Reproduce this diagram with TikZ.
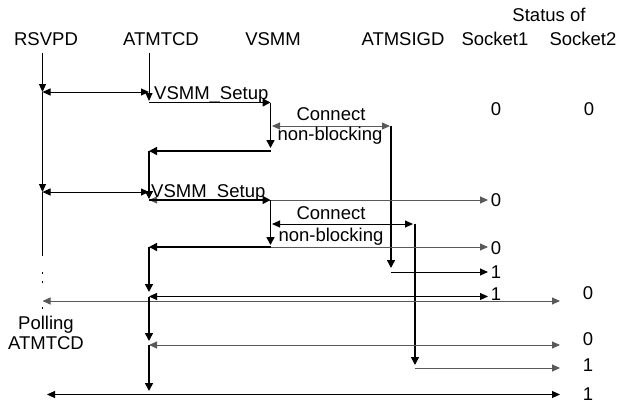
\documentclass[tikz,border=0pt]{standalone}
\usepackage{fontspec}
\setmainfont{Liberation Sans}
\usetikzlibrary{arrows.meta}
\begin{document}
\begin{tikzpicture}[x=1pt,y=-1pt,
  lbl/.style={font=\fontsize{18.5}{20}\selectfont, inner sep=0pt, anchor=base},
  msg/.style={line width=0.9pt, draw=black, arrows={-Triangle[length=8pt,width=7pt]}},
  gmsg/.style={msg, draw=black!65},
  both/.style={arrows={Triangle[length=8pt,width=7pt]-Triangle[length=8pt,width=7pt]}},
  ctl/.style={line width=1.6pt, draw=black, arrows={-Triangle[length=8pt,width=8pt]}},
  plain/.style={line width=0.9pt, draw=black},
  dotm/.style={fill=black, minimum size=1.8pt, inner sep=0pt, shape=rectangle}
]
\useasboundingbox (0,0) rectangle (630,405);

% headers
\node[lbl] (hSt) at (549,21) {Status of};
\node[lbl] (hR) at (46,45) {RSVPD};
\node[lbl] (hA) at (161,45) {ATMTCD};
\node[lbl] (hV) at (273,45) {VSMM};
\node[lbl] (hG) at (403,45) {ATMSIGD};
\node[lbl] (hS1) at (495,45) {Socket1};
\node[lbl] (hS2) at (583,45) {Socket2};

% coordinates
\coordinate (R0) at (42.5,53);
\coordinate (R1) at (42.5,92);
\coordinate (R2) at (42.5,192);
\coordinate (R3) at (42.5,256);
\coordinate (R4) at (42.5,301);
\coordinate (R5) at (47,394.5);

\coordinate (A0) at (149,53);
\coordinate (A1) at (149,92);
\coordinate (A1d) at (149,101);
\coordinate (A2) at (149,102.5);
\coordinate (A3) at (149,151);
\coordinate (A3d) at (149,199);
\coordinate (A4) at (149,192);
\coordinate (A5) at (149,200);
\coordinate (A6) at (149,247);
\coordinate (A6d) at (149,292);
\coordinate (A7) at (149,296.5);
\coordinate (A7d) at (149,341);
\coordinate (A8) at (149,345);
\coordinate (A8d) at (149,391);

\coordinate (V1) at (270.5,102.5);
\coordinate (V1d) at (270.5,148);
\coordinate (V2) at (270.5,151);
\coordinate (V3) at (270.5,200);
\coordinate (V3d) at (270.5,245);
\coordinate (V4) at (270.5,247);
\coordinate (Vc1) at (272,126);
\coordinate (Vc2) at (272,224);

\coordinate (G1) at (390,126);
\coordinate (G1a) at (391,125.5);
\coordinate (G1d) at (391,268);
\coordinate (G1b) at (391,272);
\coordinate (G2) at (413,224);
\coordinate (G2a) at (415,223.5);
\coordinate (G2d) at (415,365);
\coordinate (G2b) at (415,368);

\coordinate (S1a) at (488,200);
\coordinate (S1b) at (488,247);
\coordinate (S1c) at (488,272);
\coordinate (S1d) at (488,296.5);
\coordinate (S2a) at (560,301);
\coordinate (S2b) at (560,345);
\coordinate (S2c) at (560,368);
\coordinate (S2d) at (560,394.5);

% RSVPD lifeline
\draw[msg] (R0) -- (R1);
\draw[msg] (R1) -- (R2);
\draw[plain] (R2) -- (R3);
\node[dotm] (d1) at (42.5,273) {};
\node[dotm] (d2) at (42.5,282) {};
\node[dotm] (d3) at (42.5,308) {};

% ATMTCD top
\draw[msg] (A0) -- (A1d);

% round 1
\draw[msg,both] (R1) -- (A1);
\draw[ctl] (A2) -- (V1);
\node[lbl, anchor=base west] (su1) at (154,99) {VSMM\_Setup};
\draw[ctl] (V1) -- (V1d);
\draw[gmsg,both] (Vc1) -- (G1);
\node[lbl] (c1) at (331,120) {Connect};
\node[lbl] (nb1) at (330,140) {non-blocking};
\draw[ctl] (G1a) -- (G1d);
\draw[msg] (G1b) -- (S1c);
\draw[ctl] (V2) -- (A3);
\draw[ctl] (A3) -- (A3d);

% round 2
\draw[msg,both] (R2) -- (A4);
\draw[gmsg,both] (A5) -- (S1a);
\draw[ctl] (A5) -- (V3);
\node[lbl, anchor=base west] (su2) at (151,197.5) {VSMM\_Setup};
\draw[ctl] (V3) -- (V3d);
\draw[msg,both] (Vc2) -- (G2);
\node[lbl] (c2) at (331,219) {Connect};
\node[lbl] (nb2) at (331,241) {non-blocking};
\draw[ctl] (G2a) -- (G2d);
\draw[gmsg] (G2b) -- (S2c);
\draw[gmsg] (V4) -- (S1b);
\draw[ctl] (V4) -- (A6);
\draw[ctl] (A6) -- (A6d);
\draw[msg,both] (A7) -- (S1d);
\draw[gmsg,both] (R4) -- (S2a);
\draw[ctl] (A7) -- (A7d);
\draw[gmsg,both] (A8) -- (S2b);
\draw[ctl] (A8) -- (A8d);
\draw[msg,both] (R5) -- (S2d);

% polling label
\node[lbl] (p1) at (46,329) {Polling};
\node[lbl] (p2) at (46,349) {ATMTCD};

% status values
\node[lbl] (v1) at (496,115) {0};
\node[lbl] (v2) at (589,115) {0};
\node[lbl] (v3) at (496,206.4) {0};
\node[lbl] (v4) at (496,254) {0};
\node[lbl] (v5) at (496,278.4) {1};
\node[lbl] (v6) at (496,300.4) {1};
\node[lbl] (v7) at (588,299.4) {0};
\node[lbl] (v8) at (588,345.4) {0};
\node[lbl] (v9) at (588,371.4) {1};
\node[lbl] (v10) at (588,400.4) {1};
\end{tikzpicture}
\end{document}
